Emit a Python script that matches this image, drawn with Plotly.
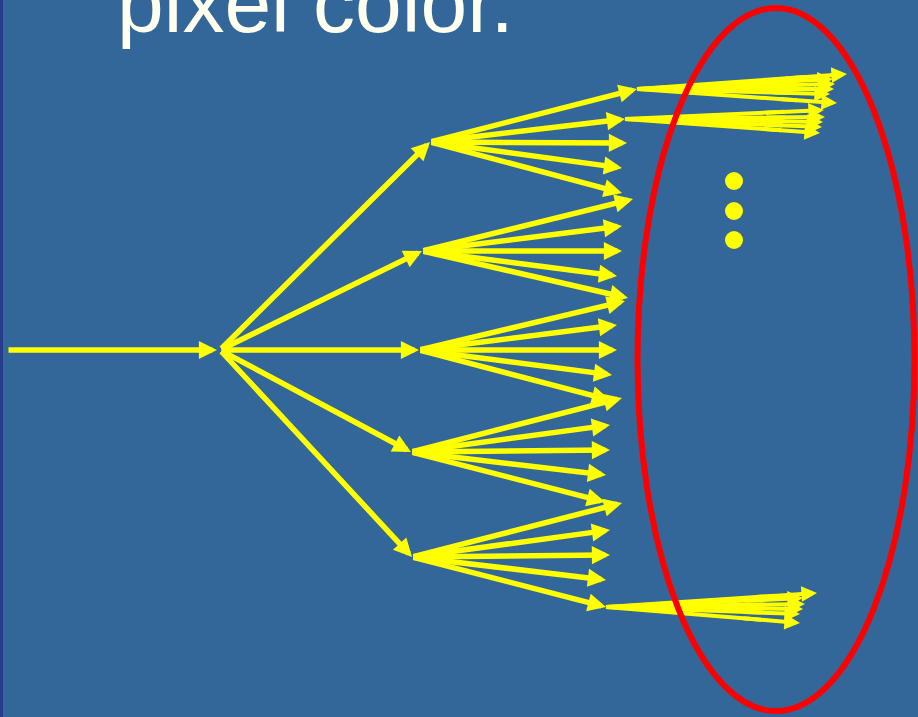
import plotly.graph_objects as go

W, H = 918, 717
BG = "#336699"
YELLOW = "#ffff00"
RED = "#ff0000"

# ---- data ----
title_text = "pixel color."

# incoming ray
source_x, source_y = 7, 350
input_tip_x = 217
hub_x, hub_y = 220, 350

# first-generation ray tips (from hub)
node_x = [430, 422, 419, 411, 412]
node_y = [142, 251, 350, 452, 557]

# second-generation ray tips (from each node)
fan_tip_x = [
    [637, 625, 627, 622, 622],
    [633, 622, 622, 617, 628],
    [625, 617, 617, 612, 610],
    [622, 610, 610, 606, 605],
    [622, 610, 610, 606, 606],
]
fan_tip_y = [
    [89, 119, 143, 168, 193],
    [199, 226, 251, 276, 298],
    [301, 325, 350, 375, 400],
    [398, 425, 450, 475, 502],
    [503, 530, 555, 580, 607],
]

# third-generation bundles: origin = (node index, ray index) of a second-gen tip
bundle_origin = [(0, 0), (0, 1), (4, 4)]
bundle_tip_x = [
    [847, 833, 835, 834, 830, 837],
    [824, 825, 823, 822, 820],
    [817, 803, 805, 803, 800, 800],
]
bundle_tip_y = [
    [74, 79, 84, 89, 94, 103],
    [110, 117, 122, 127, 133],
    [593, 598, 604, 609, 614, 623],
]

# ellipsis dots
dots_x = [734, 734, 734]
dots_y = [181, 211, 240]

# red ellipse bounds
ellipse_x = [637.5, 914.5]
ellipse_y = [8, 711]

# ---- figure ----
fig = go.Figure()
annotations = []


def arrow(x0, y0, x1, y1, width, size):
    annotations.append(dict(
        x=x1, y=y1, ax=x0, ay=y0, xref="x", yref="y", axref="x", ayref="y",
        text="", showarrow=True, arrowhead=2, arrowsize=size, arrowwidth=width,
        arrowcolor=YELLOW, standoff=0, startstandoff=0, font=dict(size=1),
    ))


MAIN_W, MAIN_S = 5.5, 0.66
# incoming ray
arrow(source_x, source_y, input_tip_x, source_y, MAIN_W, MAIN_S)
# hub -> nodes
for nx, ny in zip(node_x, node_y):
    arrow(hub_x, hub_y, nx, ny, MAIN_W, MAIN_S)
# nodes -> second generation
for i, (nx, ny) in enumerate(zip(node_x, node_y)):
    for tx, ty in zip(fan_tip_x[i], fan_tip_y[i]):
        arrow(nx, ny, tx, ty, MAIN_W, MAIN_S)

# bundles: shafts as traces (below the ellipse), heads as annotations
shaft_x, shaft_y = [], []
for b, (ni, ri) in enumerate(bundle_origin):
    ox, oy = fan_tip_x[ni][ri], fan_tip_y[ni][ri]
    for tx, ty in zip(bundle_tip_x[b], bundle_tip_y[b]):
        mx = ox + 0.8 * (tx - ox)
        my = oy + 0.8 * (ty - oy)
        shaft_x += [ox, mx, None]
        shaft_y += [oy, my, None]
        hx = ox + 0.7 * (tx - ox)
        hy = oy + 0.7 * (ty - oy)
        arrow(hx, hy, tx, ty, 4, 0.78)

fig.add_trace(go.Scatter(x=shaft_x, y=shaft_y, mode="lines",
                         line=dict(color=YELLOW, width=4), hoverinfo="skip"))
fig.add_trace(go.Scatter(x=dots_x, y=dots_y, mode="markers",
                         marker=dict(color=YELLOW, size=18, line=dict(width=0)),
                         hoverinfo="skip"))

shapes = [
    dict(type="circle", xref="x", yref="y", x0=ellipse_x[0], x1=ellipse_x[1],
         y0=ellipse_y[0], y1=ellipse_y[1], line=dict(color=RED, width=6),
         layer="above"),
    dict(type="rect", xref="paper", yref="paper", x0=0, x1=3 / W, y0=0, y1=1,
         fillcolor="#283c8c", line=dict(width=0), layer="above"),
]

annotations.append(dict(
    x=115, y=3, xref="x", yref="y", xanchor="left", yanchor="middle",
    text=title_text, showarrow=False,
    font=dict(family="Liberation Sans, Arial, sans-serif", size=84, color="#fffff0"),
))

fig.update_layout(
    width=W, height=H, margin=dict(l=0, r=0, t=0, b=0),
    paper_bgcolor=BG, plot_bgcolor=BG, showlegend=False,
    xaxis=dict(range=[0, W], visible=False, fixedrange=True),
    yaxis=dict(range=[H, 0], visible=False, fixedrange=True),
    shapes=shapes, annotations=annotations,
)

fig.write_html(
    "out.html",
    config={"displayModeBar": False},
    post_script="document.body.style.margin='0';document.body.style.background='" + BG + "';",
)
